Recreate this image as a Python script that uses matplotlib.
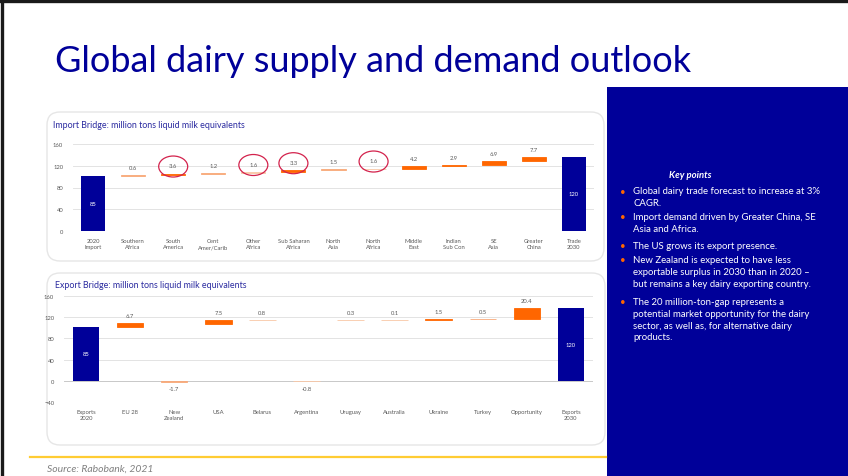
import numpy as np
import matplotlib.pyplot as plt
from matplotlib import transforms
from matplotlib.patches import Ellipse, FancyBboxPatch, Rectangle
from matplotlib.lines import Line2D

# ================= DATA =================
import_labels = ['2020\nImport', 'Southern\nAfrica', 'South\nAmerica', 'Cent\nAmer/Carib',
                 'Other\nAfrica', 'Sub Saharan\nAfrica', 'North\nAsia', 'North\nAfrica',
                 'Middle\nEast', 'Indian\nSub Con', 'SE\nAsia', 'Greater\nChina', 'Trade\n2030']
import_start = 85
import_steps = [0.6, 3.6, 1.2, 1.6, 3.3, 1.5, 1.6, 4.2, 2.9, 6.9, 7.7]
import_end = 120
import_circled = ['South\nAmerica', 'Other\nAfrica', 'Sub Saharan\nAfrica', 'North\nAfrica']

export_labels = ['Exports\n2020', 'EU 28', 'New\nZealand', 'USA', 'Belarus', 'Argentina',
                 'Uruguay', 'Australia', 'Ukraine', 'Turkey', 'Opportunity', 'Exports\n2030']
export_start = 85
export_steps = [6.7, -1.7, 7.5, 0.8, -0.8, 0.3, 0.1, 1.5, 0.5, 20.4]
export_end = 120

import_yticks = [0, 40, 80, 120, 160]
export_yticks = [-40, 0, 40, 80, 120, 160]

# the source charts sit their bars ~16 units above the labelled totals
BASE_SHIFT = 16.5

key_points = [
    'Global dairy trade forecast to increase at 3%\nCAGR.',
    'Import demand driven by Greater China, SE\nAsia and Africa.',
    'The US grows its export presence.',
    'New Zealand is expected to have less\nexportable surplus in 2030 than in 2020 \u2013\nbut remains a key dairy exporting country.',
    'The 20 million-ton-gap represents a\npotential market opportunity for the dairy\nsector, as well as, for alternative dairy\nproducts.',
]
key_points_y = [192, 218, 247, 261, 303]   # first-line centres, px

# ================= STYLE =================
W, H = 848, 477
FONT = 'Lato'
NAVY = '#000099'
ORANGE = '#FF6600'
LIGHT = '#F8A878'
PEACH = '#F9C7A6'
TXT = '#595959'
GRID = '#E3E3E3'

import_colors = [LIGHT, ORANGE, LIGHT, PEACH, ORANGE, LIGHT, PEACH, ORANGE, ORANGE, ORANGE, ORANGE]
export_colors = [ORANGE, LIGHT, ORANGE, PEACH, PEACH, PEACH, PEACH, ORANGE, LIGHT, ORANGE]

plt.rcParams['font.family'] = [FONT, 'DejaVu Sans']


def px_rect(x0, y0, x1, y1):
    return [x0 / W, 1 - y1 / H, (x1 - x0) / W, (y1 - y0) / H]


def rounded_box(fig, x0, y0, x1, y1):
    box = FancyBboxPatch((x0 / 100, (H - y1) / 100), (x1 - x0) / 100, (y1 - y0) / 100,
                         boxstyle='round,pad=0,rounding_size=0.13',
                         transform=fig.dpi_scale_trans, facecolor='white',
                         edgecolor='#E6E6E6', linewidth=1.0, zorder=-1)
    fig.patches.append(box)


def draw_bridge(fig, ax, labels, start, steps, end, colors, yticks, circled=()):
    x = np.arange(len(labels))
    ax.set_xlim(-0.5, len(labels) - 0.5)
    ax.set_ylim(yticks[0], yticks[-1])
    ax.set_facecolor('none')
    for y in yticks:
        ax.axhline(y, color='#C8C8C8' if y == 0 else GRID, linewidth=0.7, zorder=0)
    for s in ax.spines.values():
        s.set_visible(False)
    ax.set_xticks(x)
    ax.set_xticklabels(labels, linespacing=1.35)
    ax.set_yticks(yticks)
    ax.tick_params(length=0, labelsize=4.2, labelcolor=TXT)
    ax.tick_params(axis='x', pad=5)
    ax.tick_params(axis='y', pad=7)

    # totals
    for xi, val in ((x[0], start), (x[-1], end)):
        h = val + BASE_SHIFT
        ax.bar(xi, h, width=0.6, color=NAVY, zorder=2)
        ax.text(xi, h / 2, f'{val:g}', color='white', fontsize=4.2,
                ha='center', va='center', zorder=3)

    level = start + BASE_SHIFT
    for i, (v, c) in enumerate(zip(steps, colors), start=1):
        if v >= 0:
            ax.bar(x[i], v, bottom=level, width=0.6, color=c, edgecolor=c,
                   linewidth=0.6, zorder=2)
            top = level + v
            ax.annotate(f'{v:g}', (x[i], top), xytext=(0, 5.5), textcoords='offset points',
                        ha='center', va='center', fontsize=4.2, color=TXT)
            if labels[i] in circled:
                tr = fig.dpi_scale_trans + transforms.ScaledTranslation(x[i], top, ax.transData)
                ax.add_patch(Ellipse((0, 0.07), 0.29, 0.21, transform=tr, fill=False,
                                     edgecolor='#D3224C', linewidth=0.9, zorder=4))
        else:
            # negative steps hang from the zero line in the source chart
            ax.bar(x[i], v, bottom=0, width=0.6, color=c, edgecolor=c,
                   linewidth=0.6, zorder=2)
            ax.annotate(f'{v:g}', (x[i], 0), xytext=(0, -5.5), textcoords='offset points',
                        ha='center', va='center', fontsize=4.2, color=TXT)
        level += v


fig = plt.figure(figsize=(W / 100, H / 100), dpi=100)
fig.patch.set_facecolor('white')

# slide frame
fig.add_artist(Line2D([0, 1], [1 - 1.5 / H] * 2, transform=fig.transFigure,
                      color='#1A1A1A', linewidth=2.4))
fig.add_artist(Line2D([1.5 / W] * 2, [0, 1], transform=fig.transFigure,
                      color='#1A1A1A', linewidth=2.4))

fig.text(55 / W, 1 - 62 / H, 'Global dairy supply and demand outlook', color=NAVY,
         fontsize=26, ha='left', va='center')

# chart boxes
rounded_box(fig, 47, 113, 604, 262)
rounded_box(fig, 47, 274, 605, 446)

fig.text(53 / W, 1 - 125 / H, 'Import Bridge: million tons liquid milk equivalents',
         color='#2B2BA0', fontsize=6.4, ha='left', va='center')
fig.text(55 / W, 1 - 286 / H, 'Export Bridge: million tons liquid milk equivalents',
         color='#2B2BA0', fontsize=6.4, ha='left', va='center')

ax1 = fig.add_axes(px_rect(73, 145, 594, 232))
draw_bridge(fig, ax1, import_labels, import_start, import_steps, import_end,
            import_colors, import_yticks, import_circled)

ax2 = fig.add_axes(px_rect(64, 297, 593, 403))
draw_bridge(fig, ax2, export_labels, export_start, export_steps, export_end,
            export_colors, export_yticks)

# key points panel
fig.patches.append(Rectangle((607 / W, 0), 1 - 607 / W, 1 - 88 / H,
                             transform=fig.transFigure, facecolor=NAVY,
                             edgecolor='none', zorder=-1))
fig.text(690 / W, 1 - 176 / H, 'Key points', color='white', fontsize=6.8,
         fontweight='bold', fontstyle='italic', ha='center', va='center')
for txt, y in zip(key_points, key_points_y):
    fig.text(620 / W, 1 - y / H, '\u2022', color=ORANGE, fontsize=7, ha='left', va='center')
    fig.text(633 / W, 1 - (y - 5) / H, txt, color='white', fontsize=6.9,
             ha='left', va='top', linespacing=1.4)

# footer
fig.add_artist(Line2D([30 / W, 606 / W], [1 - 458 / H] * 2, transform=fig.transFigure,
                      color='#FFCC33', linewidth=1.6))
fig.text(47 / W, 1 - 469 / H, 'Source: Rabobank, 2021', color='#808080', fontsize=7.5,
         fontstyle='italic', ha='left', va='center')

fig.savefig('out.png', dpi=100)
